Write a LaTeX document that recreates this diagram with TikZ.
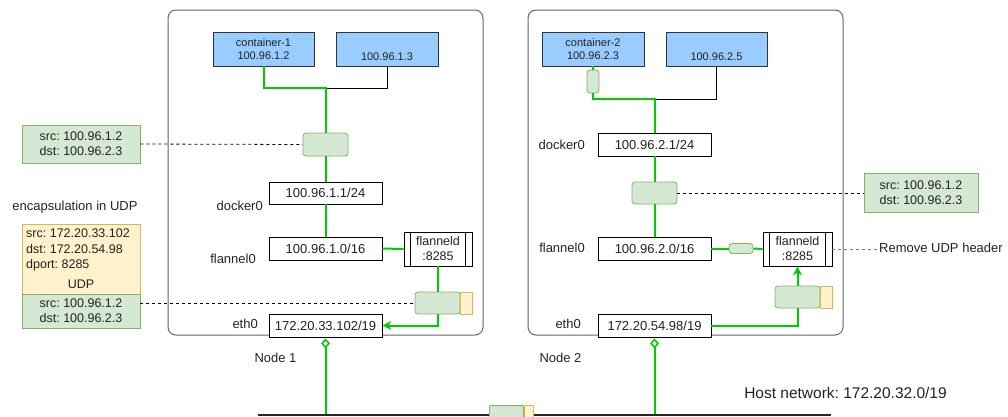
\documentclass[tikz,border=0pt]{standalone}
\usepackage{fontspec}
\setmainfont{Liberation Sans}
\usetikzlibrary{arrows.meta}
\frenchspacing
\definecolor{contblue}{HTML}{99CCFF}
\definecolor{pktg}{HTML}{D5E8D4}
\definecolor{pktgb}{HTML}{82B366}
\definecolor{pkty}{HTML}{FFF2CC}
\definecolor{pktyb}{HTML}{D6B656}
\definecolor{lgreen}{RGB}{0,204,0}
\definecolor{txt}{HTML}{222222}
\tikzset{
  outer/.style={draw=black!60, line width=1pt, rounded corners=8pt, inner sep=0pt},
  cont/.style={draw=black!80, fill=contblue, line width=0.8pt, inner sep=0pt, align=center, font=\fontsize{11}{13.5}\selectfont, text=txt},
  wbox/.style={draw=black, fill=white, line width=0.8pt, inner sep=0pt, font=\fontsize{13}{15}\selectfont, text=txt},
  pkg/.style={draw=pktgb, fill=pktg, line width=0.8pt, inner sep=0pt, rounded corners=3pt},
  pky/.style={draw=pktyb, fill=pkty, line width=0.8pt, inner sep=0pt},
  lbl/.style={font=\fontsize{13}{15}\selectfont, text=txt, inner sep=0pt},
  gl/.style={draw=lgreen, line width=2pt},
  bl/.style={draw=black, line width=0.8pt},
  dsh/.style={draw=black, dashed, line width=0.8pt},
  garr/.style={gl, -{Stealth[length=9pt, width=9pt]}},
  gdia/.style={gl, {Diamond[open, fill=white, length=10pt, width=9pt, line width=1.5pt]}-},
}
\begin{document}
\begin{tikzpicture}[x=1pt, y=-1pt]
\useasboundingbox (0,0) rectangle (1008,416);

% outer node boxes
\node[outer, minimum width=315, minimum height=325] (n1) at (325.5,172.5) {};
\node[outer, minimum width=315, minimum height=325] (n2) at (685.5,172.5) {};

% ---------- Node 1 ----------
\node[cont, minimum width=101, minimum height=34] (c1) at (263.5,49) {container-1\\100.96.1.2};
\node[cont, minimum width=102, minimum height=34] (c1b) at (387,49) {\strut\\100.96.1.3};
\coordinate (j1) at (325.5,88);
\node[pkg, minimum width=45, minimum height=23] (pk1a) at (325.5,144.5) {};
\node[wbox, minimum width=113, minimum height=22] (dock1) at (325.5,193) {100.96.1.1/24};
\node[wbox, minimum width=113, minimum height=23] (fl1) at (325.5,248.5) {100.96.1.0/16};
\node[wbox, minimum width=68, minimum height=34, align=center, font=\fontsize{12.5}{15}\selectfont] (fd1) at (438,249) {flanneld\\:8285};
\draw[bl] ([xshift=7pt]fd1.north west) -- ([xshift=7pt]fd1.south west);
\draw[bl] ([xshift=-7pt]fd1.north east) -- ([xshift=-7pt]fd1.south east);
\node[pkg, minimum width=45, minimum height=22] (pk1bg) at (437.5,303) {};
\node[pky, minimum width=12, minimum height=22, anchor=west] (pk1by) at (pk1bg.east) {};
\node[wbox, minimum width=113, minimum height=23] (eth1) at (325.5,325.5) {172.20.33.102/19};

\node[lbl, anchor=east] (d0a) at (263,206) {docker0};
\node[lbl, anchor=east] (f0a) at (256,259) {flannel0};
\node[lbl, anchor=east] (e0a) at (258,324) {eth0};

\draw[bl] (c1b.south) |- (j1);
\draw[gl] (c1.south) |- (j1) -- (pk1a.north);
\draw[gl] (pk1a.south) -- (dock1.north);
\draw[gl] (dock1.south) -- (fl1.north);
\draw[gl] (fl1.east) -- (fd1.west);
\draw[gl] (fd1.south) -- (fd1.south |- pk1bg.north);
\draw[garr] (pk1bg.south) |- (eth1.east);

% ---------- Node 2 ----------
\node[cont, minimum width=102, minimum height=34] (c2) at (593,49) {container-2\\100.96.2.3};
\node[cont, minimum width=101, minimum height=34] (c2b) at (716.5,49) {\strut\\100.96.2.5};
\node[pkg, minimum width=12, minimum height=23] (pk2v) at (593,81.5) {};
\coordinate (j2) at (654.5,99);
\node[wbox, minimum width=113, minimum height=23] (dock2) at (654.5,144.5) {100.96.2.1/24};
\node[pkg, minimum width=45, minimum height=22] (pk2a) at (654.5,193) {};
\node[wbox, minimum width=113, minimum height=23] (fl2) at (654.5,248.5) {100.96.2.0/16};
\node[pkg, minimum width=24, minimum height=10] (pk2s) at (741,248.5) {};
\node[wbox, minimum width=69, minimum height=34, align=center, font=\fontsize{12.5}{15}\selectfont] (fd2) at (797.5,249) {flanneld\\:8285};
\draw[bl] ([xshift=7pt]fd2.north west) -- ([xshift=7pt]fd2.south west);
\draw[bl] ([xshift=-7pt]fd2.north east) -- ([xshift=-7pt]fd2.south east);
\node[pkg, minimum width=45, minimum height=22] (pk2bg) at (797.5,297) {};
\node[pky, minimum width=12, minimum height=22, anchor=west] (pk2by) at (pk2bg.east) {};
\node[wbox, minimum width=113, minimum height=23] (eth2) at (654.5,325.5) {172.20.54.98/19};

\node[lbl, anchor=east] (d0b) at (585,145) {docker0};
\node[lbl, anchor=east] (f0b) at (585,248) {flannel0};
\node[lbl, anchor=east] (e0b) at (581,324) {eth0};

\draw[bl] (c2b.south) |- (j2);
\draw[gl] (c2.south) -- (pk2v.north);
\draw[gl] (pk2v.south) |- (j2) -- (dock2.north);
\draw[gl] (dock2.south) -- (pk2a.north);
\draw[gl] (pk2a.south) -- (fl2.north);
\draw[gl] (fl2.east) -- (pk2s.west);
\draw[gl] (pk2s.east) -- (fd2.west);
\draw[gl] (eth2.east) -| (pk2bg.south);
\draw[garr] (pk2bg.north) -- (pk2bg.north |- fd2.south);

% ---------- Left annotations ----------
\node[pkg, rounded corners=0pt, minimum width=118, minimum height=38, align=center, lbl, font=\fontsize{12.5}{15}\selectfont] (lb1) at (81,144) {src: 100.96.1.2\\dst: 100.96.2.3};
\node[lbl] (enc) at (75,207) {encapsulation in UDP};
\node[pky, minimum width=118, minimum height=70] (yb) at (81,259) {};
\node[lbl, anchor=north west, align=left, font=\fontsize{12.5}{15.5}\selectfont] (ybt) at (26,229) {src: 172.20.33.102\\dst: 172.20.54.98\\dport: 8285};
\node[lbl, font=\fontsize{12.5}{15}\selectfont] (udp) at (81,284) {UDP};
\node[pkg, rounded corners=0pt, minimum width=118, minimum height=34, align=center, lbl, font=\fontsize{12.5}{15}\selectfont] (lb2) at (81,311) {src: 100.96.1.2\\dst: 100.96.2.3};
\draw[dsh] (lb1.east) -- (pk1a.west);
\draw[dsh] (lb2.east |- pk1bg.west) -- (pk1bg.west);

% ---------- Right annotations ----------
\node[pkg, rounded corners=0pt, minimum width=114, minimum height=39, align=center, lbl, font=\fontsize{12.5}{15}\selectfont] (rb) at (921,192.5) {src: 100.96.1.2\\dst: 100.96.2.3};
\node[lbl, anchor=west] (rm) at (879,248) {Remove UDP header};
\draw[dsh] (pk2a.east) -- (rb.west |- pk2a.east);
\draw[dsh, draw=black!55] (fd2.east) -- (rm.west |- fd2.east);

% ---------- Host network ----------
\node[lbl] (nd1) at (275.5,358) {Node 1};
\node[lbl] (nd2) at (560.5,358) {Node 2};
\node[lbl, font=\fontsize{15.5}{18}\selectfont] (host) at (845.5,393) {Host network: 172.20.32.0/19};
\coordinate (hl) at (258,415);
\coordinate (hr) at (831,415);
\coordinate (h1) at (325.5,415);
\coordinate (h2) at (654.5,415);
\draw[gdia] ([yshift=-1pt]eth1.south) -- (h1);
\draw[gdia] ([yshift=-1pt]eth2.south) -- (h2);
\draw[draw=black!85, line width=2.5pt] (hl) -- (hr);
\node[pkg, rounded corners=1pt, minimum width=34, minimum height=14, anchor=south west] (hpg) at (489,420) {};
\node[pky, minimum width=9, minimum height=14, anchor=west] (hpy) at (hpg.east) {};
\end{tikzpicture}
\end{document}
